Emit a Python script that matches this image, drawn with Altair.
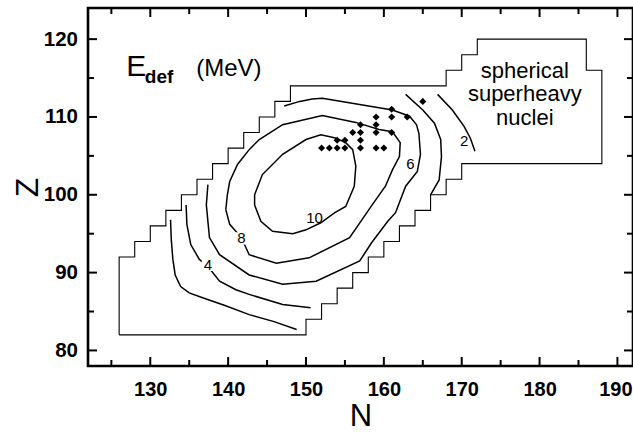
import altair as alt
import pandas as pd

FONT = "Liberation Sans"
X_DOMAIN = [122, 192]
Y_DOMAIN = [78, 124]
W, H = 545, 358

# region boundary (stepped polygon), N and Z
bound_n = [126, 126, 128, 128, 130, 130, 132, 132, 134, 134, 136, 136, 138, 138, 140, 140,
           142, 142, 144, 144, 146, 146, 148, 148, 168, 168, 170, 170, 172, 172, 186, 186,
           188, 188, 170, 170, 168, 168, 166, 166, 164, 164, 162, 162, 160, 160, 158, 158,
           156, 156, 154, 154, 152, 152, 150, 150, 126]
bound_z = [82, 92, 92, 94, 94, 96, 96, 98, 98, 100, 100, 102, 102, 104, 104, 106,
           106, 108, 108, 110, 110, 112, 112, 114, 114, 116, 116, 118, 118, 120, 120, 116,
           116, 104, 104, 102, 102, 100, 100, 98, 98, 96, 96, 94, 94, 92, 92, 90,
           90, 88, 88, 86, 86, 84, 84, 82, 82]

# contour E_def = 2 (two pieces)
c2a_n = [132.6, 132.7, 132.9, 133.2, 133.9, 135.0, 136.9, 139.5, 142.7, 145.9, 148.8]
c2a_z = [96.8, 94.2, 91.7, 89.7, 88.2, 87.4, 86.7, 85.8, 84.6, 83.7, 82.7]
c2b_n = [166.9, 168.8, 170.3, 171.1, 171.7]
c2b_z = [112.9, 110.9, 108.8, 107.3, 105.6]
# contour 4 (two pieces)
c4a_n = [134.6, 134.7, 135.2, 136.3, 137.3, 138.9, 141.0, 142.7, 147.0, 150.6]
c4a_z = [98.7, 96.2, 93.6, 91.7, 90.9, 88.9, 87.8, 87.2, 85.9, 85.5]
c4b_n = [162.8, 165.0, 166.5, 167.3, 167.4, 167.1, 166.0]
c4b_z = [112.9, 110.9, 109.2, 107.1, 104.9, 101.9, 100.0]
# contour 6
c6_n = [147.2, 149.2, 150.8, 152.1, 161.1, 163.3, 164.2, 164.5, 164.7, 164.3, 162.8, 161.5,
        160.5, 158.4, 156.9, 151.3, 147.0, 142.7, 138.9, 137.6, 137.2, 137.4]
c6_z = [111.4, 112.0, 112.3, 112.4, 110.9, 110.1, 109.0, 107.9, 105.2, 103.0, 101.1, 97.7,
        96.6, 93.8, 91.5, 88.9, 88.5, 89.7, 92.3, 94.5, 98.7, 101.3]
# contour 8 (closed)
c8_n = [139.7, 139.9, 140.2, 141.2, 142.7, 144.0, 147.0, 149.2, 152.1, 156.4, 159.4, 161.1,
        162.1, 162.0, 161.1, 160.2, 158.5, 155.6, 150.4, 146.2, 142.7, 141.7, 140.2, 139.7]
c8_z = [98.1, 100.0, 101.7, 103.9, 105.8, 107.1, 109.0, 109.5, 110.2, 109.3, 108.4, 108.1,
        106.7, 104.9, 103.2, 101.1, 98.7, 94.5, 91.9, 91.2, 92.3, 94.5, 96.2, 98.1]
# contour 10 (closed)
c10_n = [143.4, 143.4, 144.4, 147.0, 150.0, 151.9, 153.8, 155.1, 156.0, 156.4, 156.2, 155.1,
         153.7, 151.9, 150.0, 148.3, 145.7, 144.2, 143.4]
c10_z = [98.7, 100.0, 102.6, 105.2, 107.1, 107.7, 107.3, 106.7, 105.8, 103.7, 101.1, 98.5,
         97.7, 96.4, 95.5, 95.0, 95.3, 96.6, 98.7]

# known nuclei (diamonds)
dot_n = [152, 153, 154, 155, 157, 159, 160, 154, 155, 157, 156, 157, 159, 161, 157, 159,
         159, 161, 163, 161, 165]
dot_z = [106, 106, 106, 106, 106, 106, 106, 107, 107, 107, 108, 108, 108, 108, 109, 109,
         110, 110, 110, 111, 112]

# contour labels
lab_text = ["2", "4", "6", "8", "10"]
lab_n = [170.3, 137.4, 163.4, 141.7, 151.1]
lab_z = [106.9, 91.0, 103.9, 94.4, 97.0]

# tick values
x_major = [130, 140, 150, 160, 170, 180, 190]
x_minor = [125, 135, 145, 155, 165, 175, 185]
y_major = [80, 90, 100, 110, 120]
y_minor = [85, 95, 105, 115]

# annotation text
title_text = ["E", "(MeV)"]
title_n = [126.9, 135.9]
title_z = [115.2, 115.2]
title_fs = [30, 24]
sub_text = ["def"]
sub_n = [129.3]
sub_z = [114.4]
sph_text = ["spherical", "superheavy", "nuclei"]
sph_n = [178.1, 178.1, 178.1]
sph_z = [115.0, 112.0, 109.0]

xs = alt.Scale(domain=X_DOMAIN, nice=False, zero=False)
ys = alt.Scale(domain=Y_DOMAIN, nice=False, zero=False)

x_axis = alt.Axis(values=x_major, ticks=False, domain=False, grid=False,
                  labelFont=FONT, labelFontSize=20, labelFontWeight="bold", labelColor="black",
                  labelPadding=13,
                  labelOffset={"condition": {"test": "datum.value === 190", "value": -2},
                               "value": 0},
                  title="N", titleFont=FONT, titleFontSize=31,
                  titleFontWeight="normal", titleColor="black", titleY=59,
                  titleBaseline="alphabetic")
y_axis = alt.Axis(values=y_major, ticks=False, domain=False, grid=False,
                  labelFont=FONT, labelFontSize=20.5, labelFontWeight="bold", labelColor="black",
                  labelPadding=10.5, title="Z", titleFont=FONT, titleFontSize=32,
                  titleFontWeight="normal", titleColor="black", titleAngle=270,
                  titleX=-51, titleY=H / 2, titleBaseline="alphabetic", titleAlign="center")


def X():
    return alt.X("N:Q", scale=xs, axis=x_axis, title="N")


def Y():
    return alt.Y("Z:Q", scale=ys, axis=y_axis, title="Z")


def seg(name, ns, zs):
    return pd.DataFrame({"seg": name, "i": list(range(len(ns))), "N": ns, "Z": zs})


lines_df = pd.concat([
    seg("c2a", c2a_n, c2a_z), seg("c2b", c2b_n, c2b_z),
    seg("c4a", c4a_n, c4a_z), seg("c4b", c4b_n, c4b_z),
    seg("c6", c6_n, c6_z), seg("c8", c8_n, c8_z), seg("c10", c10_n, c10_z),
])
bound_df = seg("b", bound_n, bound_z)

boundary = alt.Chart(bound_df).mark_line(color="black", strokeWidth=1.1).encode(
    x=X(), y=Y(), order="i:Q")

contours = alt.Chart(lines_df).mark_line(color="black", strokeWidth=1.5).encode(
    x=X(), y=Y(), detail="seg:N", order="i:Q")

dots = alt.Chart(pd.DataFrame({"N": dot_n, "Z": dot_z})).mark_point(
    shape="diamond", filled=True, color="black", size=50, opacity=1).encode(x=X(), y=Y())

lab_df = pd.DataFrame({"t": lab_text, "N": lab_n, "Z": lab_z})
boxes = alt.Chart(lab_df[lab_df["t"].isin(["4", "8"])]).mark_point(
    shape="square", filled=True, color="white", size=150, opacity=1).encode(x=X(), y=Y())
labels = alt.Chart(lab_df).mark_text(font=FONT, fontSize=15, color="black",
                                     align="center", baseline="middle").encode(
    x=X(), y=Y(), text="t:N")

title_df = pd.DataFrame({"t": title_text, "N": title_n, "Z": title_z, "fs": title_fs})
title_main = alt.Chart(title_df).mark_text(font=FONT, color="black", align="left",
                                           baseline="alphabetic").encode(
    x=X(), y=Y(), text="t:N", size=alt.Size("fs:Q", scale=None, legend=None))
title_sub = alt.Chart(pd.DataFrame({"t": sub_text, "N": sub_n, "Z": sub_z})).mark_text(
    font=FONT, fontSize=19, fontWeight="bold", color="black", align="left",
    baseline="alphabetic").encode(x=X(), y=Y(), text="t:N")
sph = alt.Chart(pd.DataFrame({"t": sph_text, "N": sph_n, "Z": sph_z})).mark_text(
    font=FONT, fontSize=22, color="black", align="center", baseline="alphabetic").encode(
    x=X(), y=Y(), text="t:N")

# inward ticks on all four sides
tick_layers = []
for vals, ln in [(x_major, 9), (x_minor, 6)]:
    d = pd.DataFrame({"N": vals})
    tick_layers.append(alt.Chart(d).mark_rule(color="black", strokeWidth=2).encode(
        x=X(), y=alt.value(H), y2=alt.value(H - ln)))
    tick_layers.append(alt.Chart(d).mark_rule(color="black", strokeWidth=2).encode(
        x=X(), y=alt.value(0), y2=alt.value(ln)))
for vals, ln in [(y_major, 9), (y_minor, 6)]:
    d = pd.DataFrame({"Z": vals})
    tick_layers.append(alt.Chart(d).mark_rule(color="black", strokeWidth=2).encode(
        y=Y(), x=alt.value(0), x2=alt.value(ln)))
    tick_layers.append(alt.Chart(d).mark_rule(color="black", strokeWidth=2).encode(
        y=Y(), x=alt.value(W), x2=alt.value(W - ln)))

chart = alt.layer(boundary, contours, boxes, labels, dots, title_main, title_sub, sph,
                  *tick_layers).properties(
    width=W, height=H,
    autosize=alt.AutoSizeParams(type="none"),
    padding={"left": 88, "top": 8, "right": 0, "bottom": 66},
    background="white",
).configure_view(stroke="black", strokeWidth=2.6)

chart.save("out.html", embed_options={"renderer": "svg", "actions": False})
